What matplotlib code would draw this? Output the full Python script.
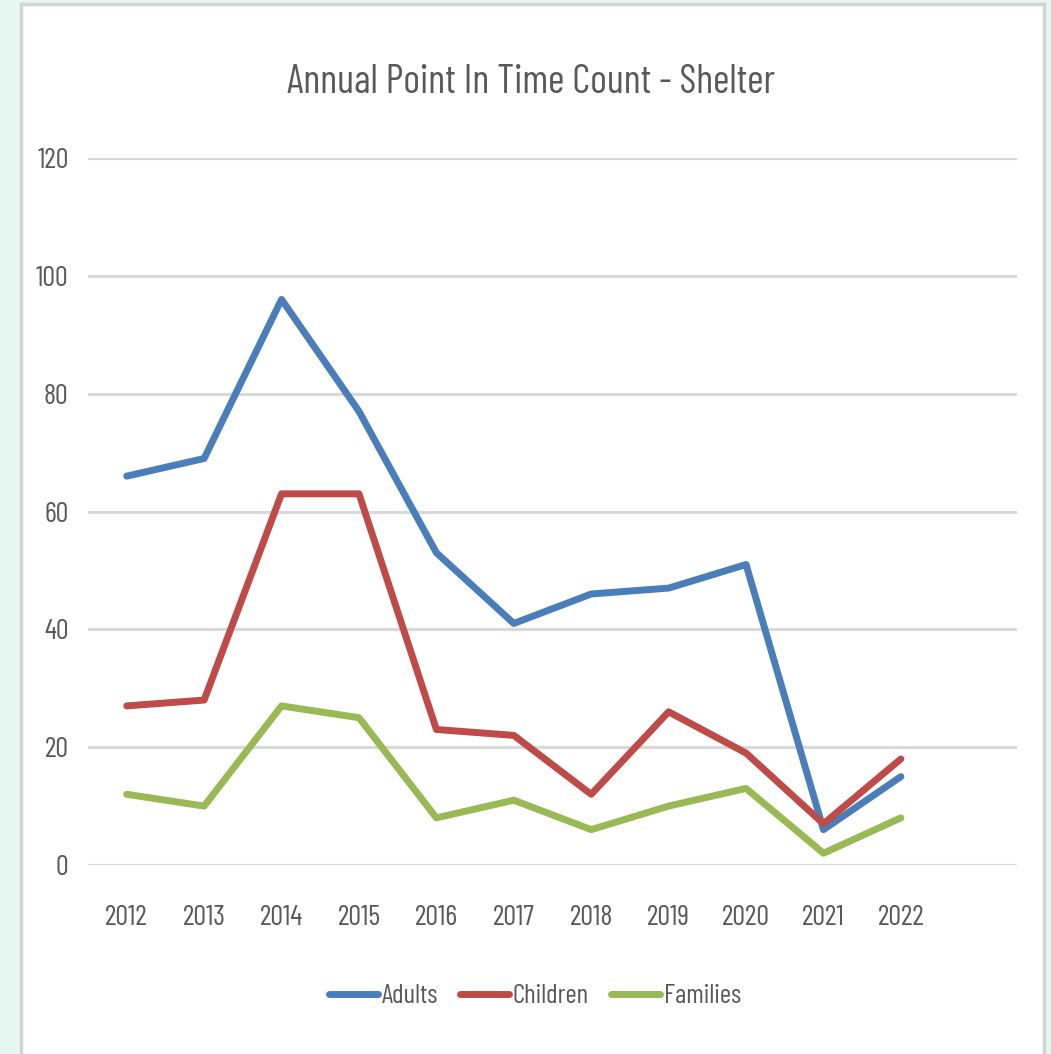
import matplotlib
matplotlib.use('Agg')
import matplotlib.pyplot as plt
from matplotlib.patches import Rectangle

# Data
years = ['2012', '2013', '2014', '2015', '2016', '2017', '2018', '2019', '2020', '2021', '2022']
adults = [66, 69, 96, 77, 53, 41, 46, 47, 51, 6, 15]
children = [27, 28, 63, 63, 23, 22, 12, 26, 19, 7, 18]
families = [12, 10, 27, 25, 8, 11, 6, 10, 13, 2, 8]

plt.rcParams['font.family'] = ['Barlow Condensed', 'DejaVu Sans']
txt = '#595959'

fig = plt.figure(figsize=(10.51, 10.54), dpi=100, facecolor='#e6f7f1')

# white chart panel with grey border
panel = Rectangle((21 / 1051, -0.05), (1044 - 21) / 1051, 1.05 - 4 / 1054,
                  transform=fig.transFigure, facecolor='white',
                  edgecolor='#d4d4d4', linewidth=2.5, zorder=-1)
fig.patches.append(panel)

ax = fig.add_axes([88 / 1051, (1054 - 865) / 1054, 929 / 1051, 707 / 1054], zorder=1)
ax.set_facecolor('none')

x = range(len(years))
ax.plot(x, adults, color='#4a7ebb', lw=5, solid_capstyle='round', label='Adults', zorder=3)
ax.plot(x, children, color='#be4b48', lw=5, solid_capstyle='round', label='Children', zorder=3)
ax.plot(x, families, color='#98b954', lw=5, solid_capstyle='round', label='Families', zorder=3)

ax.set_xlim(-0.5, 11.5)
ax.set_ylim(0, 120)
ax.set_yticks(range(0, 121, 20))
ax.set_xticks(list(x))
ax.set_xticklabels(years)
ax.grid(axis='y', color='#d9d9d9', lw=2.2)
ax.set_axisbelow(True)
for s in ax.spines.values():
    s.set_visible(False)
ax.tick_params(length=0, labelsize=20.5, colors=txt)
ax.tick_params(axis='y', pad=14)
ax.tick_params(axis='x', pad=29)

fig.text(531 / 1051, (1054 - 93) / 1054, 'Annual Point In Time Count - Shelter',
         ha='center', va='baseline', fontsize=28.7, color=txt)

fig.legend(loc='center', bbox_to_anchor=(535 / 1051, (1054 - 996) / 1054),
           ncol=3, frameon=False, fontsize=19.5, labelcolor=txt,
           handlelength=1.8, handletextpad=0.15, columnspacing=0.8)

fig.savefig('out.png', dpi=100, facecolor=fig.get_facecolor())
